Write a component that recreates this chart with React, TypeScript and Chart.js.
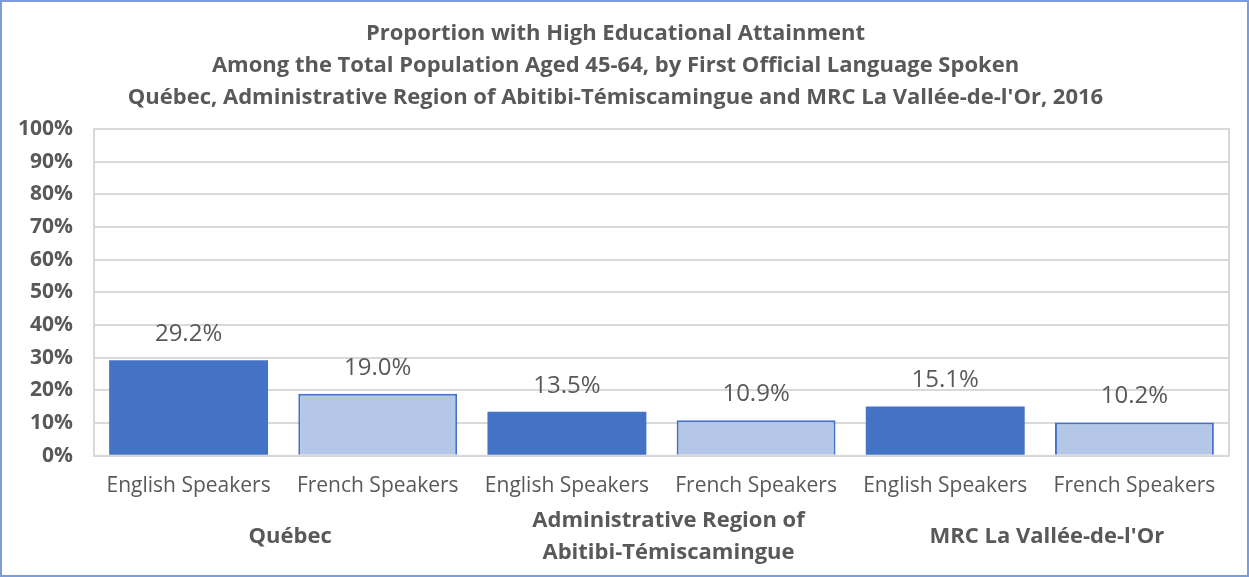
import React, { useEffect, useRef } from "react";
import { Chart, registerables } from "chart.js";

Chart.register(...registerables);

const titleLines = [
  "Proportion with High Educational Attainment",
  "Among the Total Population Aged 45-64, by First Official Language Spoken",
  "Québec, Administrative Region of Abitibi-Témiscamingue and MRC La Vallée-de-l'Or, 2016",
];
const categories = [
  "English Speakers",
  "French Speakers",
  "English Speakers",
  "French Speakers",
  "English Speakers",
  "French Speakers",
];
const groups = [["Québec"], ["Administrative Region of", "Abitibi-Témiscamingue"], ["MRC La Vallée-de-l'Or"]];
const values = [29.2, 19.0, 13.5, 10.9, 15.1, 10.2];
const yTicksMax = 100;
const yTicksStep = 10;

const FONT = "'Open Sans', sans-serif";
const TEXT = "#595959";
const DARK = "#4472C4";
const LIGHT = "#B4C7E7";
const GRID = "#D9D9D9";

export default function App() {
  const ref = useRef<HTMLCanvasElement | null>(null);
  useEffect(() => {
    document.body.style.margin = "0";
    const canvas = ref.current!;
    const extras = {
      id: "extras",
      beforeDatasetsDraw(chart: any) {
        const { ctx, chartArea } = chart;
        ctx.save();
        ctx.strokeStyle = GRID;
        ctx.lineWidth = 2;
        ctx.strokeRect(chartArea.left, chartArea.top, chartArea.right - chartArea.left, chartArea.bottom - chartArea.top);
        ctx.restore();
      },
      afterDatasetsDraw(chart: any) {
        const { ctx, chartArea } = chart;
        const meta = chart.getDatasetMeta(0);
        ctx.save();
        ctx.fillStyle = TEXT;
        ctx.textAlign = "center";
        ctx.textBaseline = "alphabetic";
        ctx.font = `24px ${FONT}`;
        meta.data.forEach((bar: any, i: number) => {
          ctx.fillText(values[i].toFixed(1) + "%", bar.x, bar.y - 19);
        });
        ctx.font = `bold 22px ${FONT}`;
        ctx.textBaseline = "middle";
        groups.forEach((lines, g) => {
          const x = (meta.data[g * 2].x + meta.data[g * 2 + 1].x) / 2 + 7;
          const cy = chartArea.bottom + 81;
          const lh = 32;
          lines.forEach((t, k) => {
            const y = cy + (k - (lines.length - 1) / 2) * lh;
            ctx.fillText(t, x, y);
          });
        });
        ctx.restore();
      },
    };
    const chart = new Chart(canvas, {
      type: "bar",
      data: {
        labels: categories,
        datasets: [
          {
            data: values,
            backgroundColor: values.map((_, i) => (i % 2 === 0 ? DARK : LIGHT)),
            borderColor: DARK,
            borderWidth: values.map((_, i) => (i % 2 === 0 ? 0 : 2)),
            barPercentage: 0.84,
            categoryPercentage: 1,
          },
        ],
      },
      options: {
        responsive: false,
        animation: false,
        layout: { padding: { left: 0, right: 18, top: 0, bottom: 58 } },
        plugins: {
          legend: { display: false },
          tooltip: { enabled: false },
          title: {
            display: true,
            text: titleLines,
            color: TEXT,
            font: { family: FONT, size: 22, weight: "bold", lineHeight: 32 / 22 },
            padding: { top: 16, bottom: 15 },
          },
        },
        scales: {
          x: {
            grid: { display: false, drawTicks: false },
            border: { display: true, color: GRID, width: 2 },
            ticks: { color: TEXT, font: { family: FONT, size: 21 }, padding: 18, maxRotation: 0, autoSkip: false },
          },
          y: {
            min: 0,
            max: yTicksMax,
            afterFit: (scale: any) => {
              scale.width = 92;
            },
            grid: { color: GRID, lineWidth: 2, drawTicks: false },
            border: { display: true, color: GRID, width: 2 },
            ticks: {
              stepSize: yTicksStep,
              color: TEXT,
              padding: 21,
              font: { family: FONT, size: 21, weight: "bold" },
              callback: (v: any) => v + "%",
            },
          },
        },
      },
      plugins: [extras],
    });
    return () => chart.destroy();
  }, []);
  return (
    <div
      style={{
        position: "absolute",
        left: 0,
        top: 0,
        width: 1249,
        height: 577,
        border: "2px solid #7C9DD9",
        boxSizing: "border-box",
        background: "#fff",
      }}
    >
      <canvas ref={ref} width={1245} height={573} style={{ width: 1245, height: 573, display: "block" }} />
    </div>
  );
}
